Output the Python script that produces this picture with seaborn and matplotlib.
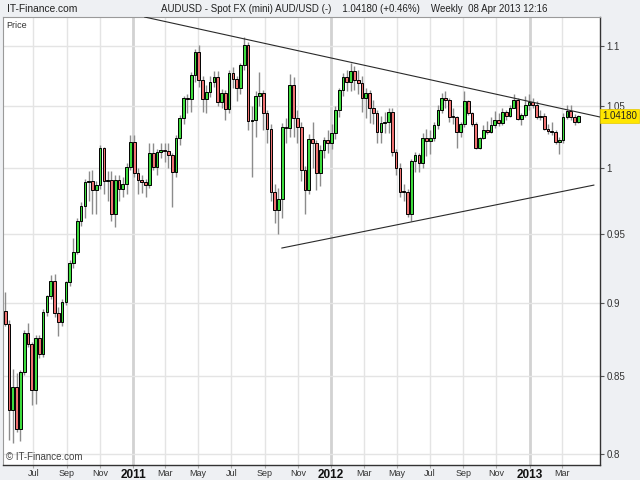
import numpy as np
import pandas as pd
import matplotlib
matplotlib.use("Agg")
import matplotlib.pyplot as plt
import matplotlib.dates as mdates
import matplotlib.transforms as mtrans
from matplotlib.ticker import FixedLocator, FixedFormatter, NullLocator
import seaborn as sns

# ---------------- data ----------------
first_week = "2010-05-10"

opens = [0.8945, 0.8858, 0.828, 0.843, 0.816, 0.853, 0.879, 0.872, 0.841, 0.876,
         0.865, 0.894, 0.905, 0.916, 0.893, 0.887, 0.901, 0.915, 0.929, 0.937,
         0.960, 0.971, 0.989, 0.990, 0.983, 0.987, 1.016, 0.990, 0.991, 0.965,
         0.991, 0.984, 0.988, 1.001, 1.021, 0.996, 0.991, 0.989, 0.987, 1.012,
         1.001, 1.013, 1.0145, 1.0135, 1.0105, 0.997, 1.0237, 1.0398, 1.0562, 1.0555,
         1.0756, 1.0954, 1.0714, 1.0553, 1.0617, 1.070, 1.0742, 1.0534, 1.0603, 1.0472,
         1.077, 1.072, 1.0645, 1.084, 1.1013, 1.0379, 1.0385, 1.0581, 1.0603, 1.0439,
         1.0309, 0.9819, 0.9679, 0.9766, 1.033, 1.0316, 1.0676, 1.0398, 1.033, 0.9987,
         0.983, 1.0231, 1.0202, 0.996, 1.0144, 1.0224, 1.0202, 1.0282, 1.0466, 1.0631,
         1.0742, 1.070, 1.0787, 1.0714, 1.069, 1.0562, 1.0603, 1.048, 1.0439, 1.0289,
         1.0359, 1.0371, 1.0452, 1.013, 1.0006, 0.9818, 0.9815, 0.9652, 1.0054, 1.0102,
         1.0040, 1.0240, 1.0216, 1.0243, 1.0348, 1.0468, 1.0565, 1.0551, 1.0412, 1.0408,
         1.0288, 1.0356, 1.0537, 1.0440, 1.0356, 1.0162, 1.0237, 1.0302, 1.0290, 1.0342,
         1.0384, 1.0362, 1.0448, 1.0420, 1.0481, 1.0551, 1.0390, 1.0426, 1.0509, 1.0531,
         1.0504, 1.0412, 1.0415, 1.0315, 1.0294, 1.0288, 1.0208, 1.0221, 1.0412, 1.0459,
         1.0412, 1.0370]

closes = [0.8858, 0.828, 0.843, 0.816, 0.853, 0.879, 0.872, 0.841, 0.876, 0.865,
          0.894, 0.905, 0.916, 0.893, 0.887, 0.901, 0.915, 0.929, 0.937, 0.960,
          0.971, 0.989, 0.990, 0.983, 0.987, 1.016, 0.990, 0.991, 0.965, 0.991,
          0.984, 0.988, 1.001, 1.021, 0.996, 0.991, 0.989, 0.987, 1.012, 1.001,
          1.013, 1.0145, 1.0135, 1.0105, 0.997, 1.0237, 1.0398, 1.0562, 1.0555, 1.0756,
          1.0954, 1.0714, 1.0553, 1.0617, 1.070, 1.0742, 1.0534, 1.0603, 1.0472, 1.077,
          1.072, 1.0645, 1.084, 1.1013, 1.0379, 1.0385, 1.0581, 1.0603, 1.0439, 1.0309,
          0.9819, 0.9679, 0.9766, 1.033, 1.0316, 1.0676, 1.0398, 1.033, 0.9987, 0.983,
          1.0231, 1.0202, 0.996, 1.0144, 1.0224, 1.0202, 1.0282, 1.0466, 1.0631, 1.0742,
          1.070, 1.0787, 1.0714, 1.069, 1.0562, 1.0603, 1.048, 1.0439, 1.0289, 1.0359,
          1.0371, 1.0452, 1.013, 1.0006, 0.9818, 0.9815, 0.9652, 1.0054, 1.0102, 1.0040,
          1.0240, 1.0216, 1.0243, 1.0348, 1.0468, 1.0565, 1.0551, 1.0412, 1.0408, 1.0288,
          1.0356, 1.0537, 1.0440, 1.0356, 1.0162, 1.0237, 1.0302, 1.0290, 1.0342, 1.0384,
          1.0362, 1.0448, 1.0420, 1.0481, 1.0551, 1.0390, 1.0426, 1.0509, 1.0531, 1.0504,
          1.0412, 1.0415, 1.0315, 1.0294, 1.0288, 1.0208, 1.0221, 1.0412, 1.0459, 1.0412,
          1.0370, 1.0418]

highs = [0.908, 0.888, 0.855, 0.852, 0.854, 0.881, 0.886, 0.873, 0.878, 0.878,
         0.896, 0.906, 0.920, 0.921, 0.897, 0.903, 0.916, 0.931, 0.947, 0.962,
         0.974, 0.992, 0.998, 0.999, 0.990, 1.018, 1.017, 0.998, 0.998, 0.995,
         0.995, 0.993, 1.004, 1.026, 1.026, 1.000, 0.995, 0.992, 1.020, 1.020,
         1.015, 1.020, 1.020, 1.020, 1.012, 1.026, 1.0425, 1.058, 1.060, 1.078,
         1.098, 1.1013, 1.075, 1.067, 1.075, 1.079, 1.079, 1.064, 1.063, 1.080,
         1.082, 1.075, 1.086, 1.1081, 1.104, 1.050, 1.062, 1.078, 1.063, 1.047,
         1.035, 0.988, 0.985, 1.036, 1.040, 1.0765, 1.074, 1.047, 1.037, 1.002,
         1.027, 1.037, 1.022, 1.018, 1.025, 1.030, 1.035, 1.050, 1.065, 1.077,
         1.080, 1.0856, 1.083, 1.080, 1.075, 1.065, 1.063, 1.055, 1.047, 1.042,
         1.045, 1.048, 1.048, 1.015, 1.004, 0.988, 0.984, 1.007, 1.013, 1.0122,
         1.0279, 1.0315, 1.030, 1.0370, 1.0509, 1.0607, 1.0620, 1.0565, 1.0481, 1.0420,
         1.0370, 1.0625, 1.0551, 1.0448, 1.0370, 1.0250, 1.0342, 1.0380, 1.0412, 1.0459,
         1.0440, 1.0481, 1.0468, 1.0509, 1.0594, 1.0565, 1.0440, 1.0580, 1.0600, 1.0565,
         1.0537, 1.0468, 1.0440, 1.0356, 1.0370, 1.0300, 1.0250, 1.0440, 1.0509, 1.0509,
         1.0430, 1.0426]

lows = [0.884, 0.809, 0.807, 0.814, 0.808, 0.851, 0.870, 0.831, 0.832, 0.862,
        0.863, 0.891, 0.903, 0.890, 0.877, 0.884, 0.899, 0.912, 0.925, 0.935,
        0.956, 0.962, 0.975, 0.965, 0.965, 0.984, 0.980, 0.975, 0.960, 0.955,
        0.975, 0.978, 0.980, 0.999, 0.993, 0.980, 0.981, 0.978, 0.985, 0.999,
        0.995, 1.008, 1.005, 1.000, 0.9706, 0.993, 1.0185, 1.035, 1.044, 1.045,
        1.070, 1.066, 1.045, 1.044, 1.057, 1.066, 1.050, 1.048, 1.0385, 1.044,
        1.065, 1.054, 1.060, 1.080, 1.030, 0.9934, 1.025, 1.050, 1.030, 1.020,
        0.975, 0.958, 0.950, 0.962, 1.020, 1.025, 1.025, 1.020, 0.990, 0.9652,
        0.980, 1.000, 0.983, 0.986, 1.008, 1.012, 1.015, 1.023, 1.041, 1.058,
        1.062, 1.062, 1.063, 1.060, 1.045, 1.040, 1.036, 1.035, 1.020, 1.020,
        1.028, 1.028, 1.010, 0.995, 0.978, 0.975, 0.963, 0.9600, 0.997, 0.997,
        1.000, 1.010, 1.011, 1.0216, 1.0315, 1.0440, 1.0481, 1.0370, 1.0356, 1.0162,
        1.0250, 1.0330, 1.0426, 1.0340, 1.0150, 1.0150, 1.0230, 1.0275, 1.0280, 1.0320,
        1.0340, 1.0342, 1.0384, 1.0412, 1.0481, 1.0384, 1.0342, 1.0412, 1.0470, 1.0480,
        1.0390, 1.0384, 1.0300, 1.0275, 1.0265, 1.0190, 1.0114, 1.0200, 1.0390, 1.0384,
        1.0342, 1.0360]

ytick_values = [0.8, 0.85, 0.9, 0.95, 1.0, 1.05, 1.1]
ytick_labels = ["0.8", "0.85", "0.9", "0.95", "1", "1.05", "1.1"]

xtick_dates = ["2010-07-01", "2010-09-01", "2010-11-01", "2011-01-01", "2011-03-01",
               "2011-05-01", "2011-07-01", "2011-09-01", "2011-11-01", "2012-01-01",
               "2012-03-01", "2012-05-01", "2012-07-01", "2012-09-01", "2012-11-01",
               "2013-01-01", "2013-03-01"]
xtick_labels = ["Jul", "Sep", "Nov", "2011", "Mar", "May", "Jul", "Sep", "Nov", "2012",
                "Mar", "May", "Jul", "Sep", "Nov", "2013", "Mar"]

upper_trend_dates = ["2011-01-22", "2013-05-11"]
upper_trend_prices = [1.1255, 1.0409]
lower_trend_dates = ["2011-10-02", "2013-04-30"]
lower_trend_prices = [0.9396, 0.9870]

x_range = ["2010-05-06", "2013-05-11"]
y_range = [0.7931, 1.1255]

last_price = 1.0418
last_price_label = "1.04180"
site_name = "IT-Finance.com"
title_text = "AUDUSD - Spot FX (mini) AUD/USD (-)    1.04180 (+0.46%)    Weekly  08 Apr 2013 12:16"

# ---------------- styling ----------------
sns.set_theme(style="white")
plt.rcParams["font.family"] = ["Liberation Sans", "DejaVu Sans"]

BG = "#eef0f3"
GREEN = "#3ddc3d"
RED = "#f07272"

fig = plt.figure(figsize=(6.4, 4.8), dpi=100, facecolor=BG)
ax = fig.add_axes([3 / 640, 15 / 480, 597 / 640, 448 / 480])
ax.set_facecolor("white")

df = pd.DataFrame({"open": opens, "high": highs, "low": lows, "close": closes})
df["date"] = pd.date_range(first_week, periods=len(df), freq="7D")
xs = mdates.date2num(df["date"])

ax.set_yscale("log")
ax.set_xlim(mdates.date2num(pd.to_datetime(x_range)))
ax.set_ylim(*y_range)

# grid
for d, lab in zip(xtick_dates, xtick_labels):
    xv = mdates.date2num(pd.Timestamp(d))
    if lab.isdigit():
        ax.axvline(xv, color="#d2d2d2", lw=2.0, zorder=0)
    else:
        ax.axvline(xv, color="#e4e4e4", lw=1.0, zorder=0)
for yv in ytick_values:
    ax.axhline(yv, color="#e4e4e4", lw=1.0, zorder=0)

# candles
o = df["open"].values
c = df["close"].values
ax.vlines(xs, df["low"].values, df["high"].values, color="#8c8c8c", lw=1.0, zorder=2)
body_bottom = np.minimum(o, c)
body_height = np.maximum(np.abs(c - o), 0.0009)
colors = np.where(c >= o, GREEN, RED)
ax.bar(xs, body_height, bottom=body_bottom, width=5.0, color=colors,
       edgecolor="black", linewidth=0.7, zorder=3, align="center")

# trend lines
up = pd.DataFrame({"x": mdates.date2num(pd.to_datetime(upper_trend_dates)), "y": upper_trend_prices})
lo = pd.DataFrame({"x": mdates.date2num(pd.to_datetime(lower_trend_dates)), "y": lower_trend_prices})
sns.lineplot(data=up, x="x", y="y", ax=ax, color="#2a2a2a", lw=0.8, zorder=4)
sns.lineplot(data=lo, x="x", y="y", ax=ax, color="#2a2a2a", lw=0.8, zorder=4)
ax.set_xlim(mdates.date2num(pd.to_datetime(x_range)))
ax.set_ylim(*y_range)
ax.set_xlabel("")
ax.set_ylabel("")

# axes ticks
ax.yaxis.tick_right()
ax.yaxis.set_major_locator(FixedLocator(ytick_values))
ax.yaxis.set_major_formatter(FixedFormatter(ytick_labels))
ax.yaxis.set_minor_locator(NullLocator())
ax.tick_params(axis="y", which="major", right=True, left=False, direction="out",
               length=3, width=0.8, color="#555555", labelsize=7, labelcolor="#333333", pad=1.5)

xt = mdates.date2num(pd.to_datetime(xtick_dates))
ax.xaxis.set_major_locator(FixedLocator(xt))
ax.xaxis.set_major_formatter(FixedFormatter(xtick_labels))
ax.xaxis.set_minor_locator(NullLocator())
ax.tick_params(axis="x", which="major", bottom=True, direction="out", length=2,
               width=0.8, color="#aaaaaa", labelsize=6.5, labelcolor="#333333", pad=1.0)
for t in ax.get_xticklabels():
    if t.get_text().isdigit():
        t.set_fontweight("bold")
        t.set_fontsize(8.5)
        t.set_color("#111111")

for side in ["left", "top"]:
    ax.spines[side].set_color("#9a9a9a")
    ax.spines[side].set_linewidth(0.8)
for side in ["right", "bottom"]:
    ax.spines[side].set_color("#333333")
    ax.spines[side].set_linewidth(1.0)

# last price tag
trans = mtrans.blended_transform_factory(ax.transAxes, ax.transData)
ax.text(1.004, last_price, last_price_label, transform=trans, ha="left", va="center",
        fontsize=7, color="#222222", zorder=6, clip_on=False,
        bbox=dict(boxstyle="square,pad=0.2", fc="#ffe600", ec="#e6c800", lw=0.5))

# texts
fig.text(7 / 640, 1 - 9 / 480, site_name, ha="left", va="center", fontsize=7.4, color="#222222")
fig.text(354 / 640, 1 - 9 / 480, title_text, ha="center", va="center", fontsize=7, color="#222222")
fig.text(6 / 640, 1 - 25 / 480, "Price", ha="left", va="center", fontsize=6.5, color="#333333")
fig.text(6 / 640, 1 - 457 / 480, "\u00a9 IT-Finance.com", ha="left", va="center", fontsize=7, color="#444444")

fig.savefig("out.png", dpi=100, facecolor=BG)
